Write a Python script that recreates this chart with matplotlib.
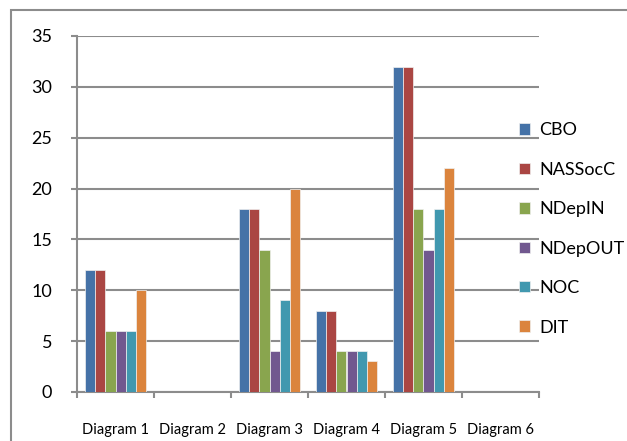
import numpy as np
import matplotlib.pyplot as plt
from matplotlib.patches import Rectangle

categories = ["Diagram 1", "Diagram 2", "Diagram 3", "Diagram 4", "Diagram 5", "Diagram 6"]
series_names = ["CBO", "NASSocC", "NDepIN", "NDepOUT", "NOC", "DIT"]
cbo = [12, 0, 18, 8, 32, 0]
nassocc = [12, 0, 18, 8, 32, 0]
ndepin = [6, 0, 14, 4, 18, 0]
ndepout = [6, 0, 4, 4, 14, 0]
noc = [6, 0, 9, 4, 18, 0]
dit = [10, 0, 20, 3, 22, 0]
colors = ["#4572A7", "#AA4643", "#89A54E", "#71588F", "#4198AF", "#DB843D"]

plt.rcParams['font.family'] = ['Lato', 'DejaVu Sans']
grey = "#8c8c8c"

fig = plt.figure(figsize=(6.27, 4.41), dpi=100)
ax = fig.add_axes([77/627, 1 - 392/441, 462/627, 356/441])

# outer chart border
fig.patches.append(Rectangle((11/627, -0.05), 1.0, 1 - 10/441 + 0.05,
                             transform=fig.transFigure, fill=False,
                             edgecolor=grey, linewidth=1.5))

x = np.arange(len(categories))
w = 1 / 7.5
all_series = [cbo, nassocc, ndepin, ndepout, noc, dit]
for i, (vals, name) in enumerate(zip(all_series, series_names)):
    ax.bar(x + (i - 2.5) * w, vals, width=w, color=colors[i], label=name,
           edgecolor='#f0f0f0', linewidth=0.5, zorder=3)

ax.set_xlim(-0.5, len(categories) - 0.5)
ax.set_ylim(0, 35)
ax.set_yticks(range(0, 36, 5))
ax.grid(axis='y', color=grey, linewidth=1.5, zorder=0)
ax.set_axisbelow(True)

for s in ['top', 'right']:
    ax.spines[s].set_visible(False)
for s in ['left', 'bottom']:
    ax.spines[s].set_color(grey)
    ax.spines[s].set_linewidth(1.5)

ax.tick_params(axis='y', length=4, width=1.5, color=grey, pad=14, labelsize=13)
ax.set_xticks(x)
ax.set_xticklabels(categories, fontsize=10.5)
ax.set_xticks(np.arange(-0.5, len(categories)), minor=True)
ax.tick_params(axis='x', which='major', length=0, pad=22)
ax.tick_params(axis='x', which='minor', length=4, width=1.5, color=grey)

ax.legend(loc='upper left', bbox_to_anchor=(512/627, 1 - 115/441),
          bbox_transform=fig.transFigure, frameon=False, fontsize=13,
          handlelength=0.6, handleheight=0.6, handletextpad=0.5,
          labelspacing=1.3, borderaxespad=0)

fig.savefig("out.png", dpi=100)
